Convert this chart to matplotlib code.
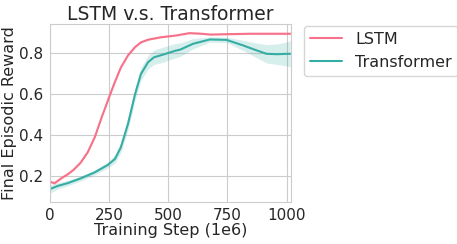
import numpy as np
import matplotlib
matplotlib.use("Agg")
import matplotlib.pyplot as plt
import seaborn as sns

sns.set_style("whitegrid")
plt.rcParams['font.family'] = ['DejaVu Sans']

lstm_steps = [0, 20, 50, 75, 100, 130, 160, 190, 220, 245, 275, 300, 330, 360, 385, 415, 470, 530, 590, 640, 680, 750, 850, 1000, 1015]
lstm = [0.172, 0.165, 0.19, 0.208, 0.23, 0.265, 0.316, 0.39, 0.49, 0.568, 0.66, 0.73, 0.789, 0.83, 0.853, 0.866, 0.878, 0.886, 0.898, 0.895, 0.891, 0.893, 0.895, 0.895, 0.895]
lstm_err = [0.008, 0.007, 0.006, 0.005, 0.005, 0.005, 0.005, 0.005, 0.005, 0.005, 0.005, 0.005, 0.005, 0.005, 0.004, 0.004, 0.004, 0.004, 0.004, 0.004, 0.004, 0.004, 0.004, 0.004, 0.004]

trans_steps = [0, 35, 75, 130, 190, 245, 275, 300, 330, 360, 385, 415, 440, 470, 530, 550, 605, 676, 746, 816, 870, 915, 960, 1006, 1015]
trans = [0.136, 0.152, 0.165, 0.188, 0.218, 0.254, 0.283, 0.34, 0.454, 0.60, 0.699, 0.756, 0.78, 0.79, 0.812, 0.817, 0.846, 0.867, 0.865, 0.838, 0.815, 0.797, 0.795, 0.797, 0.797]
trans_err = [0.02, 0.015, 0.013, 0.012, 0.012, 0.015, 0.02, 0.025, 0.03, 0.03, 0.032, 0.033, 0.035, 0.037, 0.035, 0.033, 0.025, 0.013, 0.013, 0.025, 0.035, 0.045, 0.05, 0.06, 0.065]

colors = sns.color_palette("husl", 2)

fig, ax = plt.subplots(figsize=(4.57, 2.44), dpi=100)
for xs, vals, err, c, lab in [(lstm_steps, lstm, lstm_err, colors[0], "LSTM"),
                              (trans_steps, trans, trans_err, colors[1], "Transformer")]:
    x = np.array(xs); v = np.array(vals); e = np.array(err)
    ax.plot(x, v, color=c, lw=1.5, label=lab)
    ax.fill_between(x, v - e, v + e, color=c, alpha=0.2, lw=0)

ax.set_xlim(0, 1017)
ax.set_ylim(0.074, 0.943)
ax.set_xticks([0, 250, 500, 750, 1000])
ax.set_yticks([0.2, 0.4, 0.6, 0.8])
ax.tick_params(labelsize=11, pad=1)
ax.set_xlabel("Training Step (1e6)", fontsize=11.5, labelpad=0)
ax.set_ylabel("Final Episodic Reward", fontsize=11.5, labelpad=2)
ax.set_title("LSTM v.s. Transformer", fontsize=13.5, pad=3)
ax.legend(loc="upper left", bbox_to_anchor=(1.055, 0.99), fontsize=11.5, frameon=True, borderaxespad=0)
fig.subplots_adjust(left=0.109, right=0.636, top=0.902, bottom=0.173)
fig.savefig("out.png", dpi=100)
